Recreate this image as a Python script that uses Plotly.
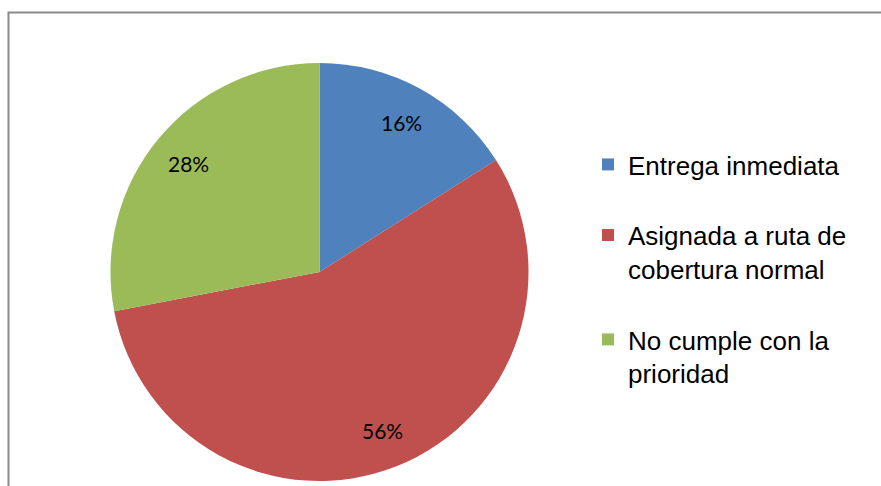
import math
import plotly.graph_objects as go

# Distribución de solicitudes según prioridad
categorias = ["Entrega inmediata<br> ", "Asignada a ruta de<br>cobertura normal<br> ", "No cumple con la<br>prioridad"]
porcentajes = [16, 56, 28]
colores = ["#4F81BD", "#C0504D", "#9BBB59"]

W, H = 881, 486
cx, cy, r = 319.5, 272.0, 209.0

fig = go.Figure(
    go.Pie(
        labels=categorias,
        values=porcentajes,
        sort=False,
        direction="clockwise",
        rotation=0,
        marker=dict(colors=colores, line=dict(width=0)),
        textinfo="none",
        domain=dict(x=[(cx - r) / W, (cx + r) / W], y=[1 - (cy + r) / H, 1 - (cy - r) / H]),
        hoverinfo="label+percent",
    )
)

# Etiquetas de porcentaje sobre el ángulo medio de cada sector, cerca del borde
total = sum(porcentajes)
acum = 0.0
r_etiqueta = 0.815 * r
for v in porcentajes:
    medio = (acum + v / 2) / total * 2 * math.pi
    acum += v
    px = cx + r_etiqueta * math.sin(medio)
    py = cy - r_etiqueta * math.cos(medio)
    fig.add_annotation(
        x=px / W, y=1 - py / H, xref="paper", yref="paper",
        text=f"{round(v / total * 100)}%", showarrow=False,
        xanchor="center", yanchor="middle",
        font=dict(family="Lato, Carlito, Calibri, sans-serif", size=21, color="#000000"),
    )

# Marco gris del área del gráfico
fig.add_shape(
    type="rect", xref="paper", yref="paper",
    x0=8.5 / W, x1=1.05, y0=-0.05, y1=1 - 12.5 / H,
    line=dict(color="#8a8a8a", width=2), fillcolor="rgba(0,0,0,0)", layer="below",
)

fig.update_layout(
    width=W, height=H,
    margin=dict(l=0, r=0, t=0, b=0),
    paper_bgcolor="#ffffff",
    plot_bgcolor="#ffffff",
    showlegend=True,
    legend=dict(
        x=588 / W, y=1 - 141 / H, xanchor="left", yanchor="top",
        font=dict(family="Liberation Sans, Arial, sans-serif", size=26, color="#000000"),
        valign="top",
        itemwidth=30,
        bgcolor="rgba(0,0,0,0)",
    ),
)

fig.write_html("out.html")
